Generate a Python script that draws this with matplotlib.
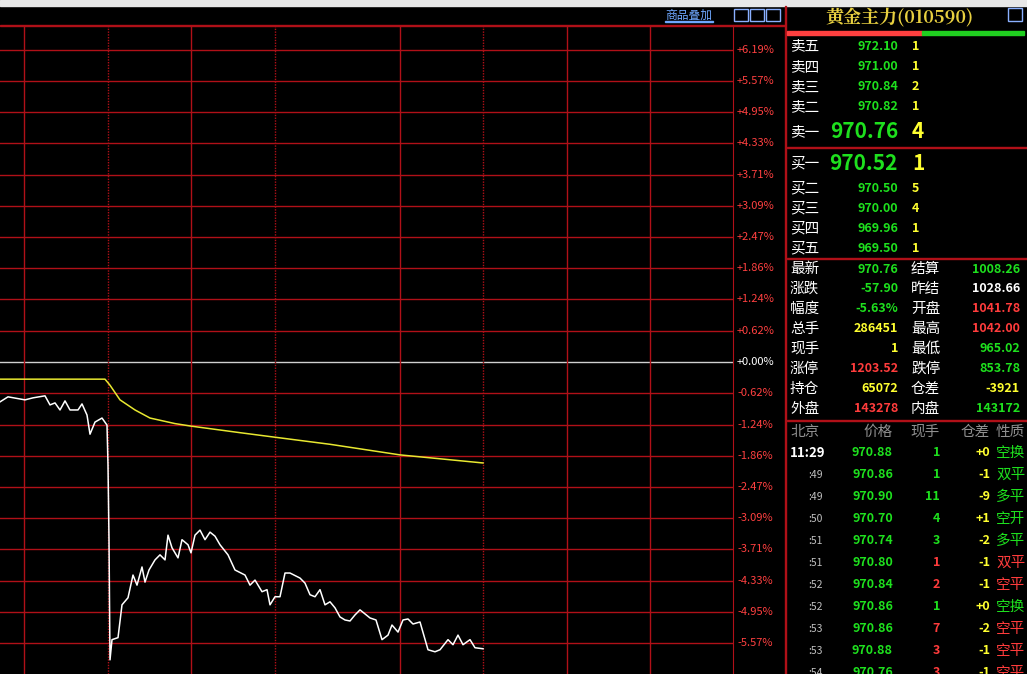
import matplotlib.pyplot as plt
from matplotlib.patches import Rectangle

plt.rcParams['font.family'] = ['Noto Sans CJK SC', 'DejaVu Sans']

# price line (% change vs prev settle), x in time-slot units
price_x = [0, 8, 25, 33, 45, 50, 55, 60, 65, 70, 78, 82, 87, 90, 95, 102, 107, 108, 109, 110,
           112, 118, 122, 128, 133, 137, 142, 145, 149, 155, 160, 165, 168, 172, 178, 182, 188,
           191, 195, 200, 205, 210, 215, 220, 228, 235, 245, 250, 255, 262, 267, 270, 275, 280,
           285, 290, 300, 305, 310, 315, 320, 325, 330, 335, 340, 345, 350, 355, 360, 370, 376,
           382, 388, 392, 398, 403, 408, 413, 420, 428, 435, 440, 448, 453, 458, 463, 470, 475, 483]
price_pct = [-0.79, -0.69, -0.75, -0.71, -0.67, -0.85, -0.81, -0.95, -0.77, -0.95, -0.95, -0.83,
             -1.05, -1.43, -1.19, -1.11, -1.25, -2.04, -3.52, -5.90, -5.50, -5.46, -4.81, -4.67,
             -4.22, -4.42, -4.06, -4.36, -4.12, -3.92, -3.82, -3.92, -3.43, -3.68, -3.88, -3.52,
             -3.62, -3.78, -3.43, -3.33, -3.52, -3.37, -3.45, -3.62, -3.82, -4.12, -4.22, -4.42,
             -4.32, -4.55, -4.51, -4.81, -4.65, -4.65, -4.18, -4.18, -4.28, -4.38, -4.61, -4.65,
             -4.51, -4.81, -4.75, -4.87, -5.05, -5.11, -5.13, -5.01, -4.91, -5.07, -5.11, -5.50,
             -5.41, -5.21, -5.35, -5.11, -5.09, -5.19, -5.15, -5.70, -5.74, -5.70, -5.50, -5.60,
             -5.41, -5.60, -5.50, -5.66, -5.68]
avg_x = [0, 105, 110, 120, 135, 150, 175, 191, 240, 275, 330, 400, 483]
avg_pct = [-0.34, -0.34, -0.46, -0.75, -0.95, -1.11, -1.22, -1.27, -1.40, -1.49, -1.63, -1.84, -2.00]

tick_pct = [6.19, 5.57, 4.95, 4.33, 3.71, 3.09, 2.47, 1.86, 1.24, 0.62, 0.00,
            -0.62, -1.24, -1.86, -2.47, -3.09, -3.71, -4.33, -4.95, -5.57]
vlines_solid = [24, 191, 400, 567, 650]
vlines_dot = [108, 275, 483]

ask_labels = ['卖五', '卖四', '卖三', '卖二', '卖一']
ask_prices = ['972.10', '971.00', '970.84', '970.82', '970.76']
ask_vols = ['1', '1', '2', '1', '4']
bid_labels = ['买一', '买二', '买三', '买四', '买五']
bid_prices = ['970.52', '970.50', '970.00', '969.96', '969.50']
bid_vols = ['1', '5', '4', '1', '1']

stat_l = ['最新', '涨跌', '幅度', '总手', '现手', '涨停', '持仓', '外盘']
stat_lv = ['970.76', '-57.90', '-5.63%', '286451', '1', '1203.52', '65072', '143278']
stat_lc = ['g', 'g', 'g', 'y', 'y', 'r', 'y', 'r']
stat_r = ['结算', '昨结', '开盘', '最高', '最低', '跌停', '仓差', '内盘']
stat_rv = ['1008.26', '1028.66', '1041.78', '1042.00', '965.02', '853.78', '-3921', '143172']
stat_rc = ['g', 'w', 'r', 'r', 'g', 'g', 'y', 'g']

tk_time = ['11:29', ':49', ':49', ':50', ':51', ':51', ':52', ':52', ':53', ':53', ':54']
tk_price = ['970.88', '970.86', '970.90', '970.70', '970.74', '970.80', '970.84', '970.86', '970.86', '970.88', '970.76']
tk_vol = ['1', '1', '11', '4', '3', '1', '2', '1', '7', '3', '3']
tk_volc = ['g', 'g', 'g', 'g', 'g', 'r', 'r', 'g', 'r', 'r', 'r']
tk_oi = ['+0', '-1', '-9', '+1', '-2', '-1', '-1', '+0', '-2', '-1', '-1']
tk_kind = ['空换', '双平', '多平', '空开', '多平', '双平', '空平', '空换', '空平', '空平', '空平']
tk_kindc = ['g', 'g', 'g', 'g', 'g', 'r', 'r', 'g', 'r', 'r', 'r']

C = {'g': '#1ee01e', 'y': '#ffff30', 'r': '#ff3c3c', 'w': '#ffffff'}
W, H = 1027, 674
GRID = '#b01018'

fig = plt.figure(figsize=(W / 100, H / 100), dpi=100, facecolor='black')


def T(x, y, s, c='w', size=9, ha='left', **kw):
    fig.text(x / W, 1 - y / H, s, color=C.get(c, c), fontsize=size, ha=ha, va='center', **kw)


def box(x, y, w, h, **kw):
    fig.patches.append(Rectangle((x / W, 1 - (y + h) / H), w / W, h / H,
                                 transform=fig.transFigure, figure=fig, **kw))


# top strip
box(0, 0, W, 6, color='#e8e8e8')
box(0, 25, 785, 1, color=GRID)

# main chart
ax = fig.add_axes([0, 0, 733 / W, (674 - 25) / H])
ax.set_facecolor('black')
px = 0.62 / 31.3
ax.set_ylim(-(674 - 362) * px, (362 - 25) * px)
ax.set_xlim(0, 733)
for v in tick_pct:
    ax.axhline(v, color='#d0d0d0' if v == 0 else GRID, lw=1)
for v in vlines_solid:
    ax.axvline(v, color=GRID, lw=1)
for v in vlines_dot:
    ax.axvline(v, color=GRID, lw=1, ls=(0, (1, 1)))
ax.plot(avg_x, avg_pct, color='#e8e830', lw=1.1)
ax.plot(price_x, price_pct, color='white', lw=1.1)
for s in ax.spines.values():
    s.set_visible(False)
ax.spines['right'].set_visible(True)
ax.spines['right'].set_color(GRID)
ax.set_xticks([])
ax.set_yticks([])
for v in tick_pct:
    y = 362 - v / px
    T(737, y, f'{v:+.2f}%' if v != 0 else '+0.00%', 'w' if v == 0 else '#ff4040', 8)

T(665, 15, '商品叠加', '#6fa8ff', 8.5)
box(665, 21, 48, 0.8, color='#6fa8ff')
for i in range(3):
    box(734 + i * 16, 9, 14, 12, fill=False, ec='#8ab0ff', lw=1)
box(1008, 8, 14, 13, fill=False, ec='#8ab0ff', lw=1)

# right panel
box(785, 6, 1, 668, color=GRID)
T(900, 18, '黄金主力(010590)', '#e8d040', 13, ha='center', family=['Noto Serif CJK SC', 'Noto Sans CJK SC', 'DejaVu Sans'], weight='bold')
box(787, 31, 135, 4, color='#ff4040')
box(922, 31, 102, 4, color='#20d020')

ask_y = [46, 67, 87, 107, 132]
for i in range(5):
    big = i == 4
    T(790, ask_y[i], ask_labels[i], 'w', 10.5)
    T(898, ask_y[i], ask_prices[i], 'g', 15 if big else 9, ha='right', weight='bold')
    T(912, ask_y[i], ask_vols[i], 'y', 15 if big else 9, weight='bold')
box(787, 147, 240, 1, color=GRID)
bid_y = [163, 188, 208, 228, 248]
for i in range(5):
    big = i == 0
    T(790, bid_y[i], bid_labels[i], 'w', 10.5)
    T(898, bid_y[i], bid_prices[i], 'g', 15 if big else 9, ha='right', weight='bold')
    T(912, bid_y[i], bid_vols[i], 'y', 15 if big else 9, weight='bold')
box(787, 258, 240, 1, color=GRID)

for i in range(8):
    y = 269 + 20 * i
    T(790, y, stat_l[i], 'w', 10.5)
    T(898, y, stat_lv[i], stat_lc[i], 9, ha='right', weight='bold')
    T(911, y, stat_r[i], 'w', 10.5)
    T(1020, y, stat_rv[i], stat_rc[i], 9, ha='right', weight='bold')
box(787, 420, 240, 1, color=GRID)

for x, s, ha in [(790, '北京', 'left'), (893, '价格', 'right'), (940, '现手', 'right'),
                 (990, '仓差', 'right'), (996, '性质', 'left')]:
    T(x, 432, s, '#909090', 10.5, ha=ha)
for i in range(11):
    y = 453 + 22 * i
    if i == 0:
        T(790, y, tk_time[i], 'w', 9.5, weight='bold')
    else:
        T(823, y, tk_time[i], '#c0c0c0', 7.5, ha='right')
    T(893, y, tk_price[i], 'g', 9, ha='right', weight='bold')
    T(940, y, tk_vol[i], tk_volc[i], 9, ha='right', weight='bold')
    T(990, y, tk_oi[i], 'y', 9, ha='right', weight='bold')
    T(996, y, tk_kind[i], tk_kindc[i], 10.5)

fig.savefig('out.png', dpi=100, facecolor='black')
